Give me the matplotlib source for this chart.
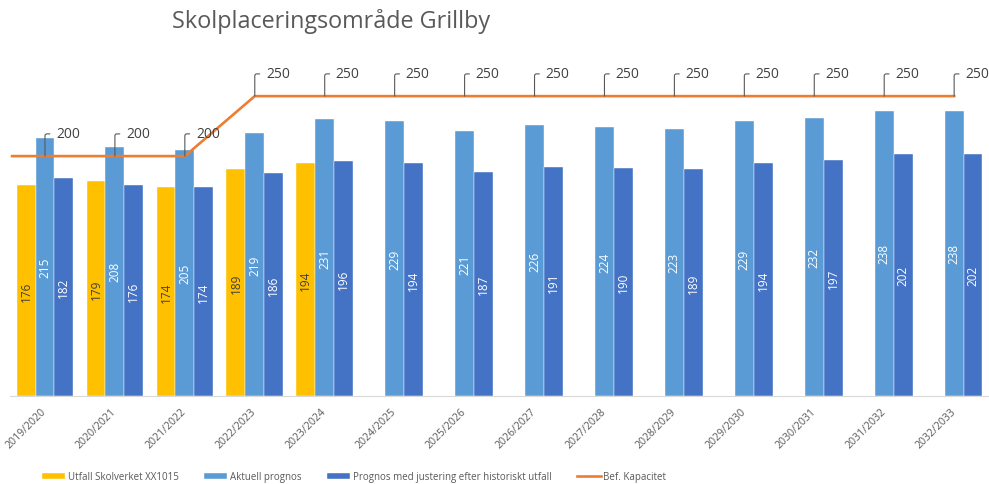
import numpy as np
import matplotlib
matplotlib.use('Agg')
import matplotlib.pyplot as plt

plt.rcParams['font.family'] = ['Open Sans', 'DejaVu Sans']

# data
years = ['2019/2020', '2020/2021', '2021/2022', '2022/2023', '2023/2024', '2024/2025',
         '2025/2026', '2026/2027', '2027/2028', '2028/2029', '2029/2030', '2030/2031',
         '2031/2032', '2032/2033']
utfall = [176, 179, 174, 189, 194]
aktuell = [215, 208, 205, 219, 231, 229, 221, 226, 224, 223, 229, 232, 238, 238]
justerad = [182, 176, 174, 186, 196, 194, 187, 191, 190, 189, 194, 197, 202, 202]
kapacitet = [200, 200, 200, 250, 250, 250, 250, 250, 250, 250, 250, 250, 250, 250]

names = ['Utfall Skolverket XX1015', 'Aktuell prognos',
         'Prognos med justering efter historiskt utfall', 'Bef. Kapacitet']

c_yellow = '#FFC000'
c_light = '#5B9BD5'
c_dark = '#4472C4'
c_orange = '#ED7D31'
c_text = '#595959'

fig = plt.figure(figsize=(9.89, 4.85), dpi=100)
ax = fig.add_axes([10/989, 0.1814, 0.99, 0.742])

x = np.arange(len(years))
w = 0.27

b1 = ax.bar(x[:len(utfall)] - w, utfall, w, color=c_yellow, edgecolor='white', lw=0.3)
b2 = ax.bar(x, aktuell, w, color=c_light, edgecolor='white', lw=0.3)
b3 = ax.bar(x + w, justerad, w, color=c_dark, edgecolor='white', lw=0.3)

# value labels inside the bars, rotated
ax.bar_label(b1, label_type='center', rotation=90, fontsize=8.5, color='#404040')
ax.bar_label(b2, label_type='center', rotation=90, fontsize=8.5, color='white')
ax.bar_label(b3, label_type='center', rotation=90, fontsize=8.5, color='white')

ax.set_xlim(-0.5, len(years) - 0.5)
ax.set_ylim(0, 300)

# capacity line, running in from the left edge
lx = np.r_[ax.get_xlim()[0] + 0.03, x]
ly = np.r_[kapacitet[0], kapacitet]
line, = ax.plot(lx, ly, color=c_orange, lw=1.9, solid_joinstyle='miter')

# callout labels for the capacity line
for xi, v in zip(x, kapacitet):
    ax.annotate(str(v), xy=(xi, v), xytext=(8, 16), textcoords='offset points',
                ha='left', va='center', fontsize=10, color='#404040',
                arrowprops=dict(arrowstyle='-', color=c_text, lw=0.8, relpos=(0, 0.5),
                                shrinkA=2.5, shrinkB=0,
                                connectionstyle='angle,angleA=0,angleB=90,rad=2'))

for s in ['top', 'right', 'left']:
    ax.spines[s].set_visible(False)
ax.spines['bottom'].set_color('#D9D9D9')
ax.set_yticks([])
ax.set_xticks(x)
ax.set_xticklabels(years, rotation=45, ha='right', va='center', rotation_mode='anchor',
                   fontsize=7.6, color=c_text)
ax.tick_params(axis='x', length=0, pad=10)

fig.text(331/989, 1 - 22/485, 'Skolplaceringsområde Grillby', ha='center', va='center',
         fontsize=16.8, color=c_text)

fig.legend([b1, b2, b3, line], names, loc='center', bbox_to_anchor=(354/989, 1 - 478/485),
           ncol=4, frameon=False, fontsize=7, handlelength=2.4, handleheight=0.5,
           columnspacing=2.6, handletextpad=0.3, labelcolor=c_text)

fig.savefig('out.png', dpi=100)
